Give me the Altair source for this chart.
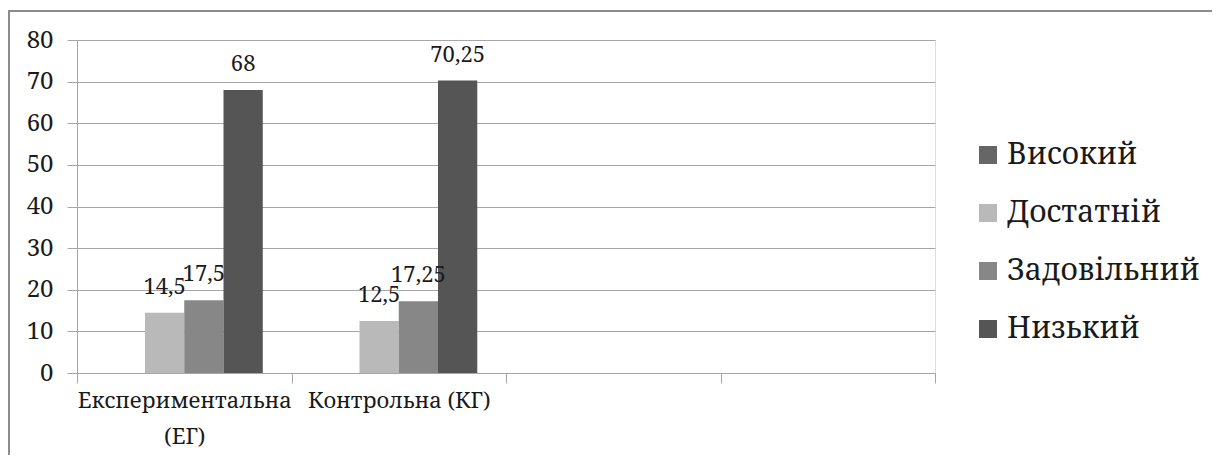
import altair as alt
import pandas as pd

groups = ["Експериментальна (ЕГ)", "Контрольна (КГ)"]
empty_slots = [" ", "  "]
levels = ["Високий", "Достатній", "Задовільний", "Низький"]
vysokyi = [None, None]
dostatnii = [14.5, 12.5]
zadovilnyi = [17.5, 17.25]
nyzkyi = [68, 70.25]
level_colors = ["#666666", "#b9b9b9", "#878787", "#555555"]
y_ticks = [0, 10, 20, 30, 40, 50, 60, 70, 80]

rows = []
for i, g in enumerate(groups):
    for lvl, series in zip(levels, [vysokyi, dostatnii, zadovilnyi, nyzkyi]):
        rows.append({"group": g, "level": lvl, "value": series[i]})
df = pd.DataFrame(rows)

FONT = "Noto Serif"
W, H = 858, 333

x_enc = alt.X(
    "group:N",
    scale=alt.Scale(domain=groups + empty_slots, paddingInner=0, paddingOuter=0),
    sort=groups + empty_slots,
    axis=alt.Axis(
        title=None,
        labelAngle=0,
        tickBand="extent",
        tickSize=10,
        tickColor="#a6a6a6",
        domainColor="#a6a6a6",
        labelFont=FONT,
        labelFontSize=22,
        labelColor="#1a1a1a",
        labelPadding=7,
        labelLineHeight=36,
        labelLimit=0,
        labelExpr="length(datum.label) > 16 ? split(datum.label, ' ') : datum.label",
        grid=False,
    ),
)
xoff_enc = alt.XOffset(
    "level:N", scale=alt.Scale(domain=levels, paddingInner=0, paddingOuter=0.732)
)
y_enc = alt.Y(
    "value:Q",
    scale=alt.Scale(domain=[0, 80], nice=False),
    axis=alt.Axis(
        title=None,
        values=y_ticks,
        grid=True,
        gridColor="#a6a6a6",
        tickSize=10,
        tickColor="#a6a6a6",
        domainColor="#a6a6a6",
        labelFont=FONT,
        labelFontSize=24,
        labelColor="#1a1a1a",
        labelPadding=14,
    ),
)

bars = alt.Chart(df).mark_bar().encode(
    x=x_enc,
    xOffset=xoff_enc,
    y=y_enc,
    color=alt.Color(
        "level:N",
        scale=alt.Scale(domain=levels, range=level_colors),
        legend=alt.Legend(
            title=None,
            orient="none",
            legendX=896,
            legendY=100,
            padding=0,
            symbolType="square",
            symbolSize=324,
            symbolStrokeWidth=0,
            labelFont=FONT,
            labelFontSize=30,
            labelColor="#1a1a1a",
            labelOffset=4,
            labelLimit=0,
            rowPadding=28,
        ),
    ),
)

texts = (
    alt.Chart(df)
    .transform_filter("isValid(datum.value)")
    .transform_calculate(label="replace(toString(datum.value), '.', ',')")
    .mark_text(font=FONT, fontSize=22, baseline="alphabetic", dy=-19, color="#1a1a1a")
    .encode(x=x_enc, xOffset=xoff_enc, y=y_enc, text="label:N")
)

frame = (
    alt.Chart(pd.DataFrame({"a": [0]}))
    .mark_rect(fillOpacity=0, stroke="#8c8c8c", strokeWidth=2)
    .encode(
        x=alt.value(-68),
        x2=alt.value(1200),
        y=alt.value(-29),
        y2=alt.value(460),
    )
)

chart = (
    alt.layer(frame, bars, texts)
    .properties(
        width=W,
        height=H,
        autosize=alt.AutoSizeParams(type="none"),
        padding={"left": 69, "top": 32, "right": 277, "bottom": 82},
    )
    .configure_view(strokeWidth=0)
    .configure(background="white")
)

chart.save("out.html", embed_options={"renderer": "svg", "actions": False})
